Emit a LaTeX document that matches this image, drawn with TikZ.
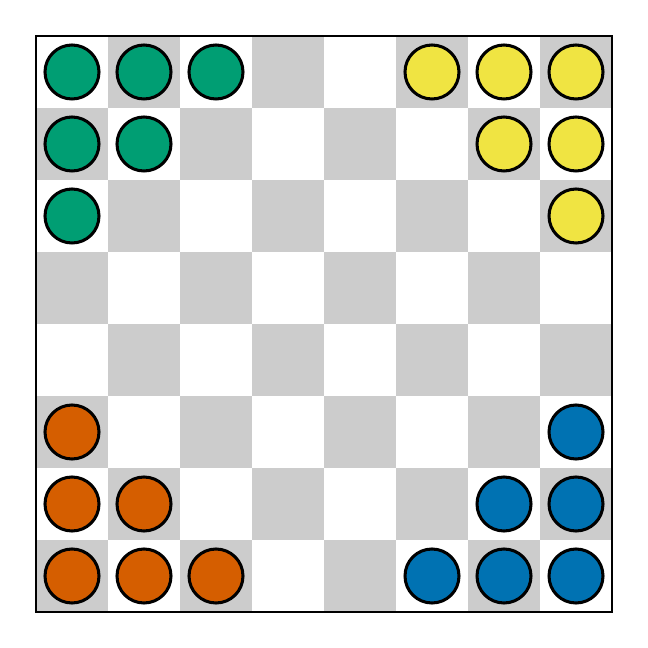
\documentclass[tikz,border=0pt]{standalone}
\definecolor{cgreen}{HTML}{009E73}
\definecolor{cyellow}{HTML}{F0E442}
\definecolor{corange}{HTML}{D55E00}
\definecolor{cblue}{HTML}{0072B2}
\definecolor{cgray}{HTML}{CCCCCC}
\begin{document}
\begin{tikzpicture}[x=1cm,y=1cm,
  piece/.style={circle,draw=black,line width=1.2pt,minimum size=0.75cm,inner sep=0pt},
  frame/.style={draw=black,line width=1.1pt}]
\useasboundingbox (-0.5,-0.5) rectangle (8.5,8.5);
\foreach \r in {0,...,7}{
  \foreach \c in {0,...,7}{
    \pgfmathparse{int(mod(\r+\c,2))}
    \ifnum\pgfmathresult=1
      \fill[cgray] (\c,7-\r) rectangle ++(1,1);
    \fi
  }
}
\draw[frame] (0,0) rectangle (8,8);
% green
\foreach \r/\c [count=\i] in {0/0,0/1,0/2,1/0,1/1,2/0}
  \node[piece,fill=cgreen] (g\i) at (\c+0.5,7.5-\r) {};
% yellow
\foreach \r/\c [count=\i] in {0/5,0/6,0/7,1/6,1/7,2/7}
  \node[piece,fill=cyellow] (y\i) at (\c+0.5,7.5-\r) {};
% orange
\foreach \r/\c [count=\i] in {5/0,6/0,6/1,7/0,7/1,7/2}
  \node[piece,fill=corange] (o\i) at (\c+0.5,7.5-\r) {};
% blue
\foreach \r/\c [count=\i] in {5/7,6/6,6/7,7/5,7/6,7/7}
  \node[piece,fill=cblue] (b\i) at (\c+0.5,7.5-\r) {};
\end{tikzpicture}
\end{document}
